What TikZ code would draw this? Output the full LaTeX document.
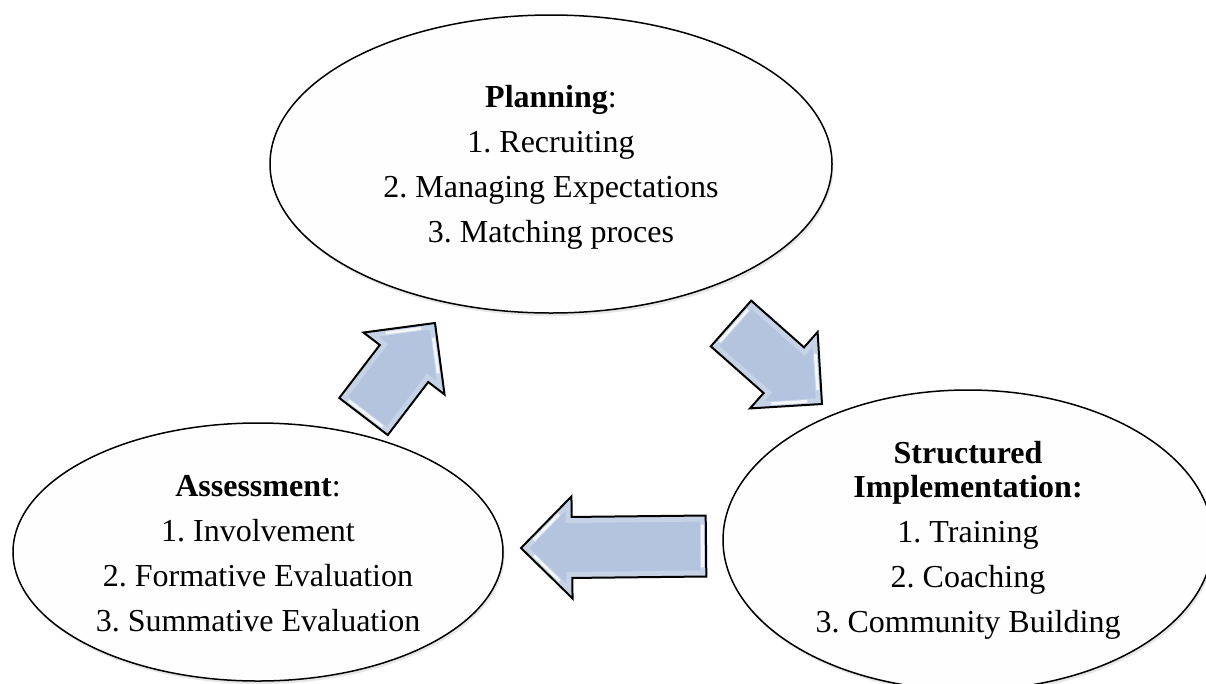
\documentclass[tikz,border=0pt]{standalone}
\usepackage{fontspec}
\setmainfont{Liberation Serif}
\usetikzlibrary{shapes.geometric,calc,shadows}
\frenchspacing

\definecolor{arrowblue}{RGB}{180,196,222}
\definecolor{arrowedge}{RGB}{198,211,232}
\definecolor{phasefill}{RGB}{254,254,254}

\tikzset{
  phase/.style={ellipse, draw=black, line width=1.5pt, fill=phasefill, inner sep=0pt,
    drop shadow={opacity=0.2, shadow xshift=1.5pt, shadow yshift=-3pt}},
  phasetext/.style={align=center, anchor=north, inner sep=0pt,
    font=\fontsize{32}{45}\selectfont},
  arrowoutline/.style={draw=black, line width=2pt, line join=miter},
  arrowrim/.style={draw=white, opacity=0.25, line width=12pt},
  arrowshine/.style={draw=white, opacity=0.8, line width=10pt},
  arrowlip/.style={draw=arrowedge, line width=4pt},
}

% Bevelled block arrow from tail centre #2 to tip #3, points named #1-...
\newcommand{\cyclearrow}[3]{%
  \coordinate (#1-t) at #2;
  \coordinate (#1-p) at #3;
  \coordinate (#1-n) at ($(#1-p)!51pt!(#1-t)$);
  \coordinate (#1-a) at ($(#1-t)!30.5pt!90:(#1-p)$);
  \coordinate (#1-b) at ($(#1-n)!30.5pt!90:(#1-p)$);
  \coordinate (#1-c) at ($(#1-n)!51pt!90:(#1-p)$);
  \coordinate (#1-d) at ($(#1-n)!51pt!-90:(#1-p)$);
  \coordinate (#1-e) at ($(#1-n)!30.5pt!-90:(#1-p)$);
  \coordinate (#1-f) at ($(#1-t)!30.5pt!-90:(#1-p)$);
  \fill[arrowblue] (#1-a) -- (#1-b) -- (#1-c) -- (#1-p) -- (#1-d) -- (#1-e) -- (#1-f) -- cycle;
  \begin{scope}
    \clip (#1-a) -- (#1-b) -- (#1-c) -- (#1-p) -- (#1-d) -- (#1-e) -- (#1-f) -- cycle;
    \draw[arrowrim] (#1-a) -- (#1-b) -- (#1-c) -- (#1-p) -- (#1-d) -- (#1-e) -- (#1-f) -- cycle;
    \draw[arrowshine] ($(#1-a)!0.15!(#1-f)$) -- ($(#1-a)!0.85!(#1-f)$);
    \draw[arrowshine] ($(#1-c)!0.3!(#1-p)$) -- ($(#1-c)!0.8!(#1-p)$);
    \draw[arrowshine] ($(#1-d)!0.3!(#1-p)$) -- ($(#1-d)!0.8!(#1-p)$);
    \draw[arrowlip] (#1-a) -- (#1-b) -- (#1-c) -- (#1-p) -- (#1-d) -- (#1-e) -- (#1-f) -- cycle;
  \end{scope}
  \draw[arrowoutline] (#1-a) -- (#1-b) -- (#1-c) -- (#1-p) -- (#1-d) -- (#1-e) -- (#1-f) -- cycle;
}

\begin{document}
\begin{tikzpicture}[x=1pt, y=-1pt]
  \useasboundingbox (0,0) rectangle (1206,683);
  \clip (0,0) rectangle (1206,683);

  % the three phases of the cycle
  \node[phase, minimum width=562pt, minimum height=298pt] (plan) at (551,164) {};
  \node[phase, minimum width=490pt, minimum height=300pt] (impl) at (968,540) {};
  \node[phase, minimum width=490pt, minimum height=258pt] (assess) at (258,552) {};

  \node[phasetext] (plan-text) at (551,85)
    {\textbf{Planning}:\\1. Recruiting\\2. Managing Expectations\\3. Matching proces};
  \node[phasetext] (impl-text) at (968,441)
    {\textbf{Structured}\\[-11pt]\textbf{Implementation:}\\1. Training\\2. Coaching\\3. Community Building};
  \node[phasetext] (assess-text) at (258,475)
    {\textbf{Assessment}:\\1. Involvement\\2. Formative Evaluation\\3. Summative Evaluation};

  % arrows closing the cycle
  \cyclearrow{toplan}{(363.5,416.5)}{(435,323)}
  \cyclearrow{toimpl}{(731,323.5)}{(822,404)}
  \cyclearrow{toassess}{(706,546)}{(521,548)}
\end{tikzpicture}
\end{document}
